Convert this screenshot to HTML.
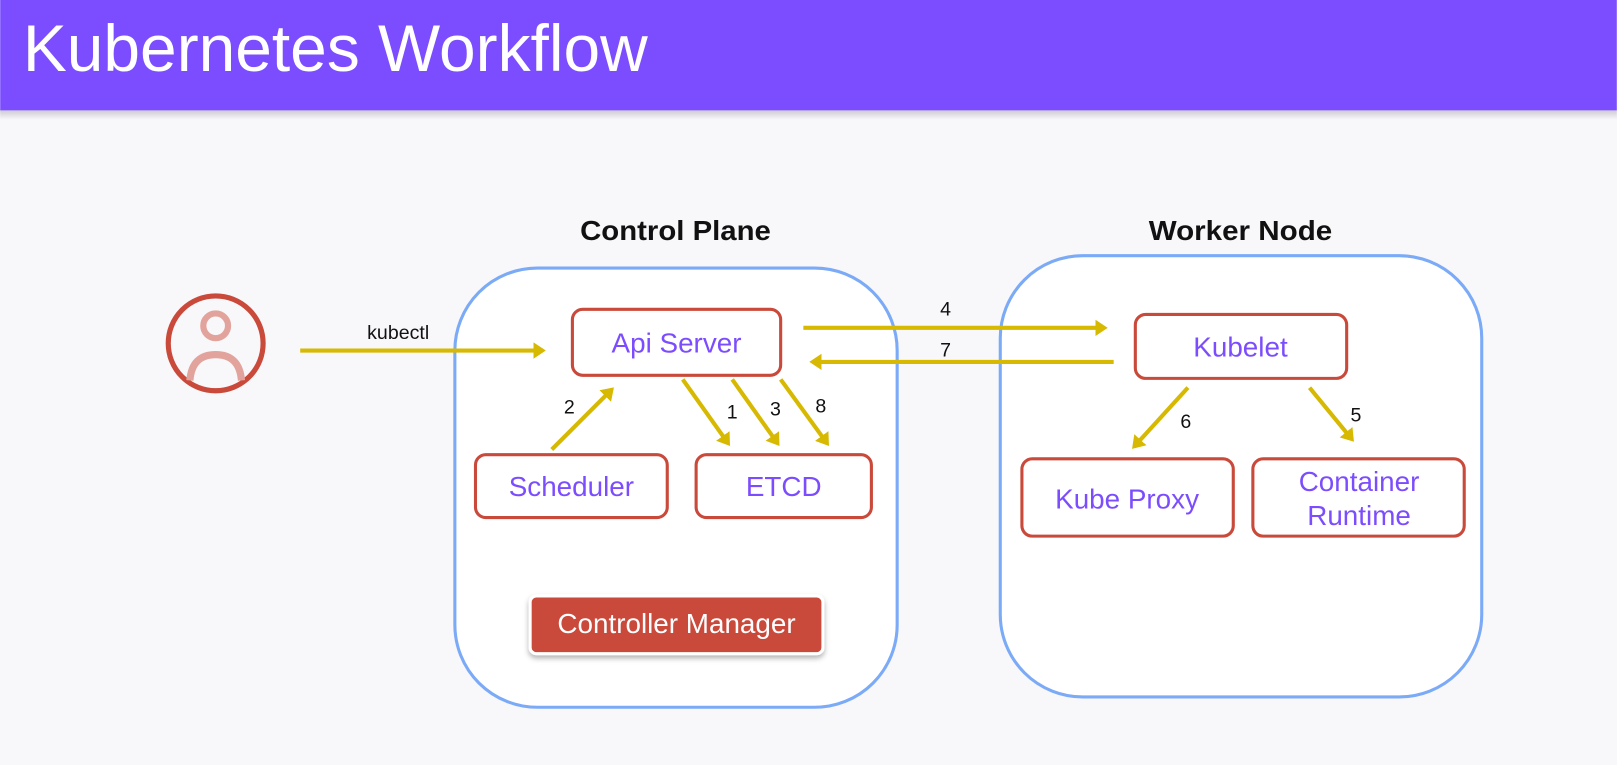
<!DOCTYPE html>
<html><head><meta charset="utf-8"><style>
html,body{margin:0;padding:0;background:#f8f7fa;}
svg{display:block;}
</style></head><body>
<svg width="1617" height="765" viewBox="0 0 1568 742" xmlns="http://www.w3.org/2000/svg" font-family="Liberation Sans, sans-serif">
<defs>
<linearGradient id="sh" x1="0" y1="0" x2="0" y2="1"><stop offset="0" stop-color="#c9c5cf"/><stop offset="1" stop-color="#f8f7fa"/></linearGradient>
<marker id="ah" markerWidth="4" markerHeight="4" refX="2.2" refY="2" orient="auto" markerUnits="strokeWidth"><path d="M0,0 L3,2 L0,4 Z" fill="#d6b900"/></marker>
<filter id="ds" x="-10%" y="-20%" width="120%" height="150%"><feDropShadow dx="0" dy="3" stdDeviation="2.5" flood-color="#000" flood-opacity="0.3"/></filter>
</defs>
<rect x="0" y="0" width="1568" height="742" fill="#f8f7fa"/>
<rect x="0" y="106" width="1568" height="10" fill="url(#sh)"/>
<rect x="0" y="0" width="1568" height="107" fill="#7c4dff"/>
<text x="22" y="69" font-size="64" fill="#fff" textLength="606" lengthAdjust="spacingAndGlyphs">Kubernetes Workflow</text>

<text x="655" y="233" font-size="27" font-weight="bold" text-anchor="middle" fill="#111" textLength="185" lengthAdjust="spacingAndGlyphs">Control Plane</text>
<text x="1203" y="233" font-size="27" font-weight="bold" text-anchor="middle" fill="#111" textLength="178" lengthAdjust="spacingAndGlyphs">Worker Node</text>

<rect x="441" y="260" width="429" height="426" rx="80" fill="#fff" stroke="#7baaf7" stroke-width="3"/>
<rect x="970" y="248" width="467" height="428" rx="80" fill="#fff" stroke="#7baaf7" stroke-width="3"/>

<!-- person -->
<circle cx="209" cy="333" r="46" fill="#f8f7fa" stroke="#c9493a" stroke-width="5"/>
<circle cx="209" cy="316" r="12" fill="none" stroke="#e2a39c" stroke-width="6"/>
<path d="M184,369 Q186,344 209,344 Q232,344 234,369" fill="none" stroke="#e2a39c" stroke-width="7"/>

<g stroke="#d6b900" stroke-width="4" fill="none" marker-end="url(#ah)">
<line x1="291" y1="340" x2="526" y2="340"/>
<line x1="779" y1="318" x2="1071" y2="318"/>
<line x1="1080" y1="351" x2="788" y2="351"/>
<line x1="535" y1="436" x2="593" y2="378"/>
<line x1="662" y1="368" x2="706" y2="430"/>
<line x1="710" y1="368" x2="754" y2="430"/>
<line x1="757" y1="368" x2="802" y2="430"/>
<line x1="1152" y1="376" x2="1100" y2="433"/>
<line x1="1270" y1="376" x2="1311" y2="426"/>
</g>
<g font-size="19" fill="#111" text-anchor="middle">
<text x="386" y="329">kubectl</text>
<text x="917" y="306">4</text>
<text x="917" y="346">7</text>
<text x="552" y="401">2</text>
<text x="710" y="406">1</text>
<text x="752" y="403">3</text>
<text x="796" y="400">8</text>
<text x="1150" y="415">6</text>
<text x="1315" y="409">5</text>
</g>

<g fill="#fff" stroke="#c9493a" stroke-width="3">
<rect x="555" y="300" width="202" height="64" rx="10"/>
<rect x="461" y="441" width="186" height="61" rx="10"/>
<rect x="675" y="441" width="170" height="61" rx="10"/>
<rect x="1101" y="305" width="205" height="62" rx="10"/>
<rect x="991" y="445" width="205" height="75" rx="10"/>
<rect x="1215" y="445" width="205" height="75" rx="10"/>
</g>
<rect x="514" y="578" width="284" height="56" rx="6" fill="#c9493a" stroke="#fff" stroke-width="3" filter="url(#ds)"/>

<g font-size="27" fill="#7c4dff" text-anchor="middle">
<text x="656" y="342">Api Server</text>
<text x="554" y="481">Scheduler</text>
<text x="760" y="481">ETCD</text>
<text x="1203" y="346">Kubelet</text>
<text x="1093" y="493">Kube Proxy</text>
<text x="1318" y="476">Container</text>
<text x="1318" y="509">Runtime</text>
</g>
<text x="656" y="614" font-size="27" fill="#fff" text-anchor="middle">Controller Manager</text>
</svg>
</body></html>
